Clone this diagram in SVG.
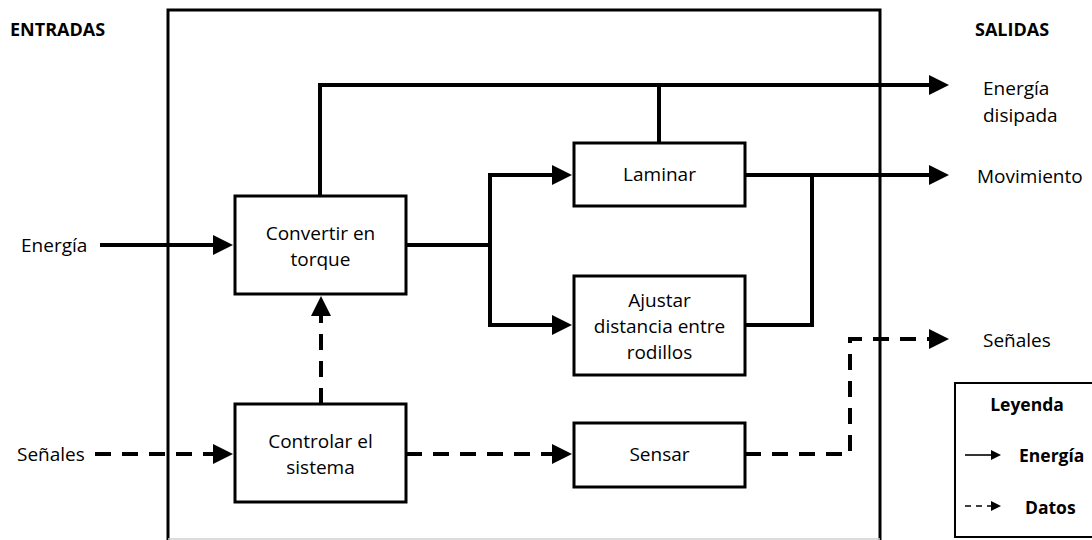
<svg xmlns="http://www.w3.org/2000/svg" width="1092" height="540" viewBox="0 0 1092 540">
  <defs>
    <style>
      .box { fill: #fff; stroke: #000; stroke-width: 3; }
      .wire { fill: none; stroke: #000; stroke-width: 4; stroke-linejoin: miter; }
      .data { stroke-dasharray: 16 11; }
      .thin { fill: none; stroke: #000; stroke-width: 1.6; }
      .lbl { font-family: "Open Sans", "Noto Sans", sans-serif; font-size: 19px; fill: #000; }
      .ctr { text-anchor: middle; }
      .bold { font-family: "Open Sans", "Noto Sans", sans-serif; font-size: 17.5px; font-weight: bold; fill: #000; }
      .head { font-size: 18px; }
    </style>
    <marker id="arrow" viewBox="0 0 20 20" refX="2" refY="10" markerWidth="20" markerHeight="20" markerUnits="userSpaceOnUse" orient="auto">
      <path d="M0,0 L20,10 L0,20 z" fill="#000"/>
    </marker>
    <marker id="arrowSmall" viewBox="0 0 10 10" refX="1" refY="5" markerWidth="10" markerHeight="10" markerUnits="userSpaceOnUse" orient="auto">
      <path d="M0,0 L10,5 L0,10 z" fill="#000"/>
    </marker>
  </defs>

  <rect width="1092" height="540" fill="#fff"/>

  <!-- System boundary -->
  <g id="boundary">
    <path d="M168,540 V10 H880 V540" fill="none" stroke="#000" stroke-width="3"/>
    <line x1="168" y1="539" x2="880" y2="539" stroke="#d0d0d0" stroke-width="1.5"/>
  </g>

  <!-- Column headings -->
  <text class="bold head" x="10" y="36">ENTRADAS</text>
  <text class="bold head" x="975" y="36">SALIDAS</text>

  <!-- Connectors -->
  <g id="connectors">
    <path class="wire" d="M100,245 H215" marker-end="url(#arrow)"/>
    <path class="wire" d="M320,196 V85 H931" marker-end="url(#arrow)"/>
    <path class="wire" d="M659,143 V85"/>
    <path class="wire" d="M406,245 H490 V175 H554" marker-end="url(#arrow)"/>
    <path class="wire" d="M490,243 V325 H554" marker-end="url(#arrow)"/>
    <path class="wire" d="M745,175 H931" marker-end="url(#arrow)"/>
    <path class="wire" d="M745,325 H812 V175"/>
    <path class="wire data" d="M321,404 V314" marker-end="url(#arrow)"/>
    <path class="wire data" d="M95,454 H215" marker-end="url(#arrow)"/>
    <path class="wire data" d="M406,454 H554" marker-end="url(#arrow)"/>
    <path class="wire data" d="M745,454 H850 V339 H931" marker-end="url(#arrow)"/>
  </g>

  <!-- Function blocks -->
  <g id="convertir">
    <rect class="box" x="235" y="196" width="171" height="98"/>
    <text class="lbl ctr" x="320.5" y="240">Convertir en</text>
    <text class="lbl ctr" x="320.5" y="266">torque</text>
  </g>
  <g id="laminar">
    <rect class="box" x="574" y="143" width="171" height="63"/>
    <text class="lbl ctr" x="659.5" y="181">Laminar</text>
  </g>
  <g id="ajustar">
    <rect class="box" x="574" y="276" width="171" height="99"/>
    <text class="lbl ctr" x="659.5" y="307">Ajustar</text>
    <text class="lbl ctr" x="659.5" y="333">distancia entre</text>
    <text class="lbl ctr" x="659.5" y="359">rodillos</text>
  </g>
  <g id="controlar">
    <rect class="box" x="235" y="404" width="171" height="98"/>
    <text class="lbl ctr" x="320.5" y="448">Controlar el</text>
    <text class="lbl ctr" x="320.5" y="474">sistema</text>
  </g>
  <g id="sensar">
    <rect class="box" x="574" y="423" width="171" height="64"/>
    <text class="lbl ctr" x="659.5" y="461">Sensar</text>
  </g>

  <!-- Inputs -->
  <g id="in-energia">
    <text class="lbl" x="21" y="252">Energía</text>
  </g>
  <g id="in-senales">
    <text class="lbl" x="17" y="461">Señales</text>
  </g>

  <!-- Outputs -->
  <g id="out-energia">
    <text class="lbl" x="983" y="95">Energía</text>
    <text class="lbl" x="983" y="122">disipada</text>
  </g>
  <g id="out-movimiento">
    <text class="lbl" x="977" y="183">Movimiento</text>
  </g>
  <g id="out-senales">
    <text class="lbl" x="983" y="347">Señales</text>
  </g>

  <!-- Legend -->
  <g id="legend">
    <rect x="955" y="383" width="150" height="154" fill="#fff" stroke="#000" stroke-width="2"/>
    <text class="bold ctr" x="1027" y="411">Leyenda</text>
    <path class="thin" d="M965,455 H992" marker-end="url(#arrowSmall)"/>
    <text class="bold" x="1019" y="462">Energía</text>
    <path class="thin" d="M965,506 H992" stroke-dasharray="6 5" marker-end="url(#arrowSmall)"/>
    <text class="bold" x="1025" y="514">Datos</text>
  </g>
</svg>
